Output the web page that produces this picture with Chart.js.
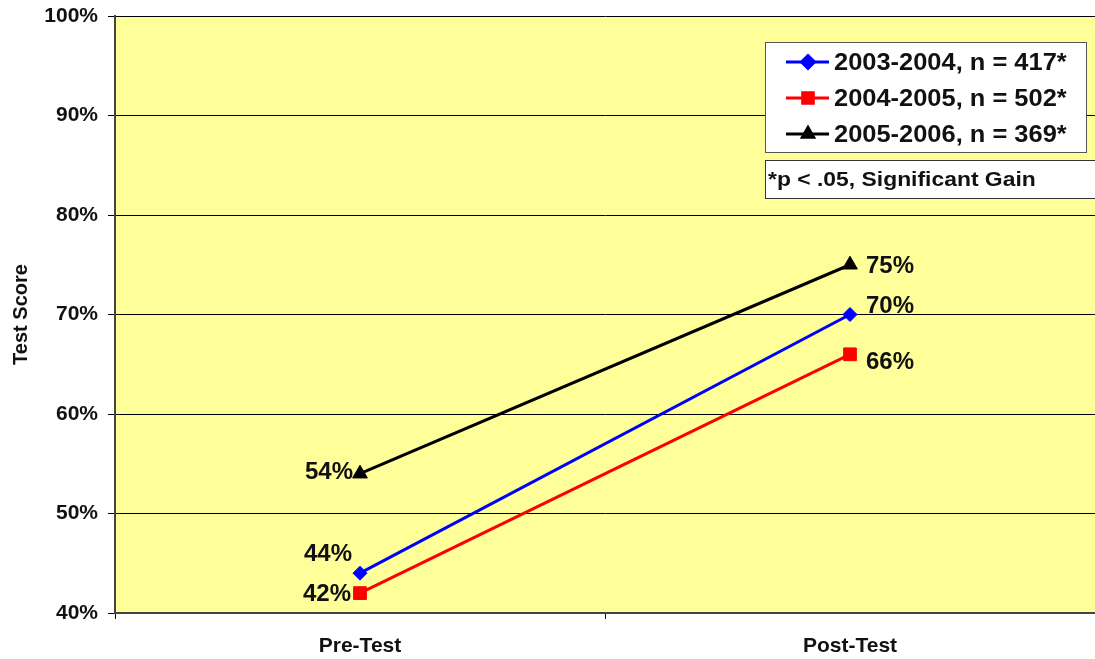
<!DOCTYPE html>
<html>
<head>
<meta charset="utf-8">
<script src="https://cdn.jsdelivr.net/npm/chart.js@4/dist/chart.umd.min.js"></script>
<style>
	html, body { margin: 0; padding: 0; background: #fff; }
	#wrap { width: 1095px; height: 659px; position: relative; }
</style>
</head>
<body>
<div id="wrap"><canvas id="chart"></canvas></div>
<script>
const categories = ['Pre-Test', 'Post-Test'];
const seriesNames = ['2003-2004, n = 417*', '2004-2005, n = 502*', '2005-2006, n = 369*'];
const scores0304 = [44, 70];
const scores0405 = [42, 66];
const scores0506 = [54, 75];
const yTicks = [40, 50, 60, 70, 80, 90, 100];
const noteText = '*p < .05, Significant Gain';

const FONT = '"Liberation Sans", Arial, sans-serif';

// where each value label sits relative to its point: [dx, dy, align]
const labelPlacement = [
	[[-32, -19, 'center'], [16, -8, 'left']],
	[[-9, 1, 'right'], [16, 8, 'left']],
	[[-7, -1, 'right'], [16, 2, 'left']]
];

const plotBackground = {
	id: 'plotBackground',
	beforeDraw(chart) {
		const {ctx, chartArea: a} = chart;
		ctx.save();
		ctx.fillStyle = '#FFFF99';
		ctx.fillRect(a.left, a.top, a.right - a.left, a.bottom - a.top);
		ctx.restore();
	}
};

const valueLabels = {
	id: 'valueLabels',
	afterDatasetsDraw(chart) {
		const ctx = chart.ctx;
		ctx.save();
		ctx.font = 'bold 24px ' + FONT;
		ctx.fillStyle = '#111';
		ctx.textBaseline = 'middle';
		chart.data.datasets.forEach((ds, i) => {
			chart.getDatasetMeta(i).data.forEach((pt, j) => {
				const [dx, dy, align] = labelPlacement[i][j];
				ctx.textAlign = align;
				ctx.fillText(ds.data[j] + '%', pt.x + dx, pt.y + dy);
			});
		});
		ctx.restore();
	}
};

// text stretched a little wider, like the original rendering
function wideText(ctx, text, x, y, sx) {
	ctx.save();
	ctx.translate(x, y);
	ctx.scale(sx, 1);
	ctx.fillText(text, 0, 0);
	ctx.restore();
}

const boxLegend = {
	id: 'boxLegend',
	afterDraw(chart) {
		const ctx = chart.ctx;
		ctx.save();
		// legend box
		ctx.fillStyle = '#fff';
		ctx.strokeStyle = '#555';
		ctx.lineWidth = 1;
		ctx.fillRect(765, 42, 321, 110);
		ctx.strokeRect(765.5, 42.5, 321, 110);
		ctx.font = 'bold 24px ' + FONT;
		ctx.textBaseline = 'middle';
		ctx.textAlign = 'left';
		chart.data.datasets.forEach((ds, i) => {
			const y = 62 + i * 36;
			ctx.strokeStyle = ds.borderColor;
			ctx.lineWidth = 3;
			ctx.beginPath();
			ctx.moveTo(786, y);
			ctx.lineTo(829, y);
			ctx.stroke();
			Chart.helpers.drawPoint(ctx, {pointStyle: ds.pointStyle, radius: ds.pointStyle === 'rect' ? 7.5 : 6.5, borderWidth: 1}, 808, y);
			ctx.fillStyle = ds.borderColor;
			ctx.fill();
			ctx.fillStyle = '#111';
			wideText(ctx, ds.label, 834, y + 1, 1.06);
		});
		// note box
		ctx.fillStyle = '#fff';
		ctx.fillRect(765, 160, 335, 39);
		ctx.strokeStyle = '#333';
		ctx.lineWidth = 1;
		ctx.strokeRect(765.5, 160.5, 335, 38);
		ctx.fillStyle = '#111';
		ctx.font = 'bold 21px ' + FONT;
		wideText(ctx, noteText, 768, 180, 1.09);
		ctx.restore();
	}
};

const makeSet = (label, data, color, style, r) => ({
	label: label,
	data: data,
	borderColor: color,
	backgroundColor: color,
	borderWidth: 3,
	pointStyle: style,
	pointRadius: r,
	pointBorderWidth: 1,
	tension: 0
});

new Chart(document.getElementById('chart'), {
	type: 'line',
	data: {
		labels: categories,
		datasets: [
			makeSet(seriesNames[0], scores0304, '#0000FF', 'rectRot', 7),
			makeSet(seriesNames[1], scores0405, '#FF0000', 'rect', 9),
			makeSet(seriesNames[2], scores0506, '#000000', 'triangle', 8.5)
		]
	},
	options: {
		responsive: true,
		maintainAspectRatio: false,
		animation: false,
		layout: { autoPadding: false, padding: { top: 16, right: 0, left: 0, bottom: 0 } },
		plugins: { legend: { display: false }, tooltip: { enabled: false } },
		scales: {
			x: {
				offset: true,
				grid: { offset: true, drawOnChartArea: false, drawTicks: true, tickLength: 6, color: '#000' },
				border: { display: true, color: '#444', width: 2 },
				ticks: { color: '#111', font: { family: FONT, size: 21, weight: 'bold' }, padding: 15 },
				afterFit(s) { s.height = 46; s.paddingLeft = 0; s.paddingRight = 0; }
			},
			y: {
				min: 40,
				max: 100,
				afterBuildTicks(s) { s.ticks = yTicks.map(v => ({value: v})); },
				grid: { color: '#000', lineWidth: 1, drawTicks: true, tickLength: 7 },
				border: { display: true, color: '#444', width: 2 },
				ticks: {
					color: '#111',
					font: { family: FONT, size: 21, weight: 'bold' },
					padding: 10,
					callback: v => v + '%'
				},
				title: { display: true, text: 'Test Score', color: '#111', font: { family: FONT, size: 20, weight: 'bold' }, padding: { top: 9, bottom: 0 } },
				afterFit(s) { s.width = 115; s.paddingTop = 0; s.paddingBottom = 0; }
			}
		}
	},
	plugins: [plotBackground, valueLabels, boxLegend]
});
</script>
</body>
</html>
